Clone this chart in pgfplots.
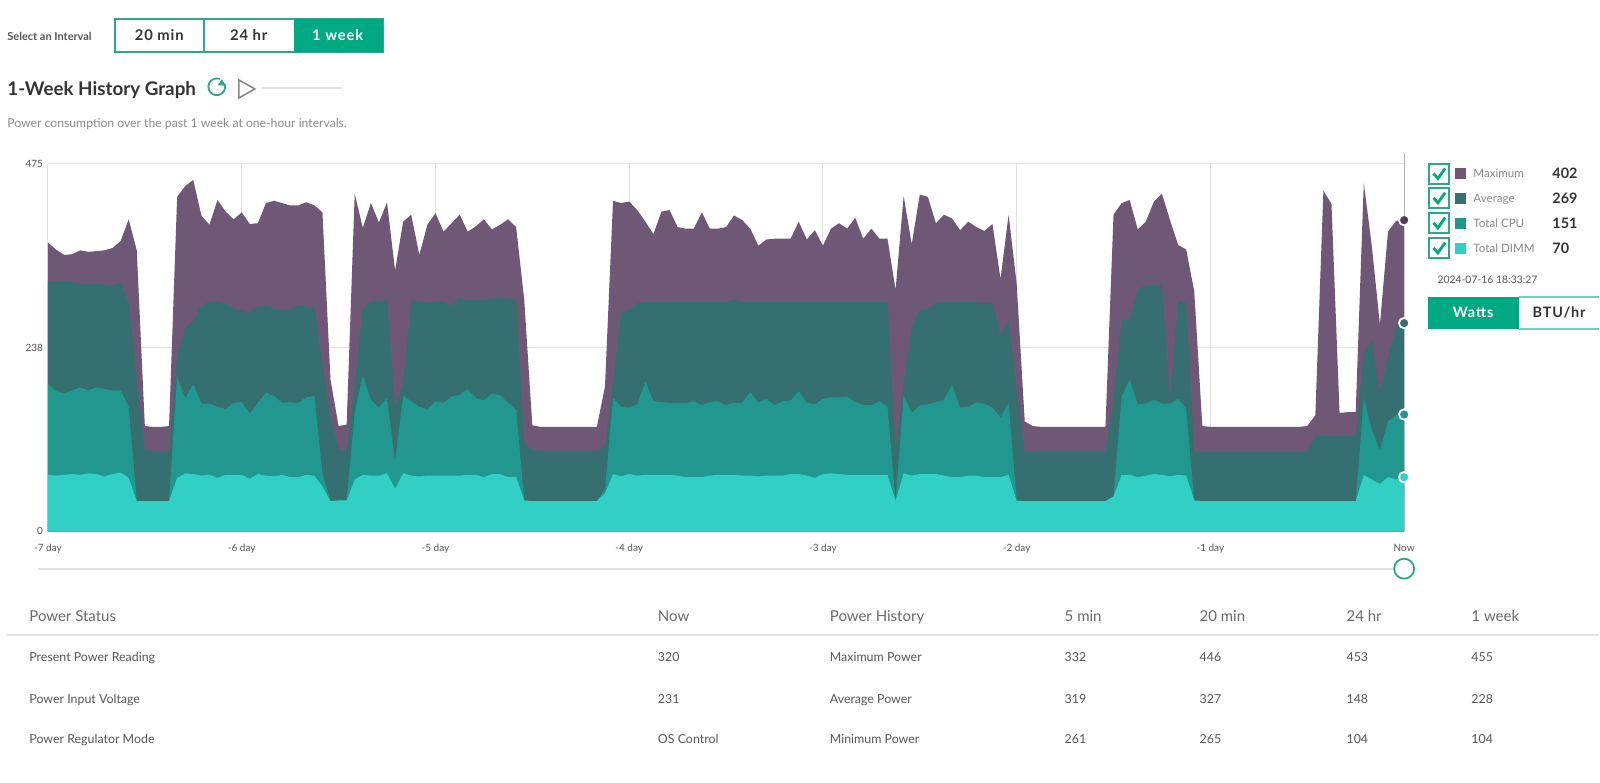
\documentclass[border=0pt]{standalone}
\usepackage{fontspec}
\setmainfont{Lato}
\newfontfamily\btnfont[LetterSpace=6]{Lato}
\usepackage{pgfplots}
\usepackage{pgfplotstable}
\pgfplotsset{compat=1.18}
\definecolor{cmax}{HTML}{6F5876}
\definecolor{cavg}{HTML}{356F70}
\definecolor{ccpu}{HTML}{229790}
\definecolor{cdim}{HTML}{32CFC5}
\definecolor{hpe}{HTML}{01A982}
\definecolor{edge}{HTML}{2FA58C}
\definecolor{tdark}{HTML}{333333}
\definecolor{tmid}{HTML}{555555}
\definecolor{thead}{HTML}{6A6A6A}
\definecolor{tlight}{HTML}{8A8A8A}
\definecolor{gridc}{HTML}{E2E2E2}
\pgfplotstableread{
i max avg cpu dimm
0 373 323 190 73
1 364 323 181 72
2 357 323 178 73
3 358 322 182 74
4 363 320 186 73
5 361 319 182 75
6 362 320 186 74
7 363 319 184 71
8 366 318 182 74
9 375 321 182 76
10 403 295 161 69
11 363 200 39 39
12 136 105 39 39
13 135 104 39 39
14 135 104 39 39
15 136 104 39 39
16 432 226 200 69
17 446 262 172 75
18 454 273 190 74
19 408 291 165 72
20 396 297 165 73
21 428 297 161 69
22 413 294 158 73
23 403 288 166 73
24 412 285 167 73
25 397 282 152 68
26 398 290 166 74
27 424 292 179 72
28 427 288 175 71
29 424 286 166 73
30 421 286 167 70
31 421 293 166 70
32 425 290 173 73
33 421 288 175 72
34 412 217 75 58
35 196 148 39 39
36 136 105 40 40
37 138 105 40 40
38 436 191 153 67
39 392 288 201 73
40 424 297 170 72
41 399 298 160 72
42 425 298 172 75
43 337 161 90 55
44 400 191 175 75
45 409 298 168 72
46 357 297 161 71
47 396 295 158 72
48 411 297 168 72
49 387 297 166 72
50 398 291 174 72
51 409 302 176 72
52 387 298 184 73
53 394 299 172 73
54 403 299 169 70
55 390 301 178 74
56 396 301 176 74
57 403 301 166 70
58 393 298 157 70
59 299 114 40 40
60 137 105 39 39
61 135 104 39 39
62 135 104 39 39
63 135 104 39 39
64 135 104 39 39
65 135 104 39 39
66 135 104 39 39
67 135 104 39 39
68 135 104 39 39
69 187 110 54 49
70 427 191 172 74
71 424 283 161 71
72 426 286 160 74
73 415 295 164 72
74 400 296 194 73
75 384 296 168 73
76 413 296 167 73
77 415 296 166 73
78 393 296 166 72
79 391 296 166 70
80 391 296 168 70
81 412 296 163 70
82 391 296 167 72
83 391 296 168 73
84 393 296 163 73
85 408 300 166 73
86 402 296 166 72
87 391 296 180 72
88 369 296 166 71
89 377 296 171 72
90 378 296 163 72
91 378 296 168 72
92 378 296 169 74
93 400 296 181 74
94 377 296 166 72
95 389 296 164 69
96 369 296 171 74
97 391 296 173 75
98 398 296 173 74
99 391 296 174 73
100 405 296 167 73
101 378 296 163 73
102 391 296 163 73
103 378 296 168 73
104 378 296 161 73
105 312 105 39 39
106 433 191 176 75
107 371 264 153 72
108 435 286 163 74
109 432 288 164 74
110 398 295 167 74
111 409 296 170 72
112 404 296 189 70
113 389 296 160 70
114 400 296 161 72
115 393 296 166 72
116 388 294 165 70
117 397 295 160 70
118 326 252 147 70
119 409 273 166 73
120 320 183 41 39
121 142 103 39 39
122 136 104 39 39
123 135 104 39 39
124 135 104 39 39
125 135 104 39 39
126 135 104 39 39
127 135 104 39 39
128 135 104 39 39
129 135 104 39 39
130 135 104 39 39
131 135 104 39 39
132 409 170 45 45
133 424 273 174 73
134 428 273 196 73
135 390 312 164 70
136 400 318 165 72
137 426 319 170 74
138 436 317 165 73
139 402 172 165 71
140 370 297 171 73
141 364 295 159 72
142 310 103 39 40
143 136 103 39 39
144 135 103 39 39
145 135 103 39 39
146 135 103 39 39
147 135 103 39 39
148 135 103 39 39
149 135 103 39 39
150 135 103 39 39
151 135 103 39 39
152 135 103 39 39
153 135 103 39 39
154 135 103 39 39
155 135 103 39 39
156 136 103 39 39
157 150 123 39 39
158 440 123 39 39
159 423 123 39 39
160 153 123 39 39
161 154 123 39 39
162 154 123 39 39
163 450 230 172 73
164 368 247 131 67
165 267 178 105 61
166 387 226 142 70
167 401 264 150 67
168 402 269 151 70
}\powerdata
\newcommand{\cbox}[1]{%
  \draw[edge,line width=1pt] (715pt,#1+5pt) rectangle (725pt,#1-5pt);
  \draw[hpe,line width=1.4pt] (717.2pt,#1+0.2pt) -- (719.4pt,#1-2.3pt) -- (723pt,#1+2.8pt);}
\begin{document}
\begin{tikzpicture}
\path (0pt,0pt) rectangle (800pt,-391.5pt);
% header
\node[anchor=west,font=\fontsize{5.5pt}{6pt}\selectfont\bfseries,text=tmid,inner sep=0pt] at (3.5pt,-18pt) {Select an Interval};
\draw[edge,line width=0.9pt] (57.5pt,-9.5pt) rectangle (191.5pt,-26pt);
\fill[hpe] (147pt,-9.5pt) rectangle (191.5pt,-26pt);
\draw[edge,line width=0.9pt] (102pt,-9.5pt) -- (102pt,-26pt);
\node[anchor=base,font=\fontsize{7.4pt}{8pt}\selectfont\btnfont\bfseries,text=tdark] at (79.7pt,-20.3pt) {20 min};
\node[anchor=base,font=\fontsize{7.4pt}{8pt}\selectfont\btnfont\bfseries,text=tdark] at (124.5pt,-20.3pt) {24 hr};
\node[anchor=base,font=\fontsize{7.4pt}{8pt}\selectfont\btnfont\bfseries,text=white] at (169pt,-20.3pt) {1 week};
\node[anchor=west,font=\fontsize{9.4pt}{11pt}\selectfont\bfseries,text=tdark,inner sep=0pt] at (3.5pt,-45pt) {1-Week History Graph};
\draw[edge,line width=0.9pt] (112.4pt,-42pt) arc (20:-290:4.2pt);
\fill[edge] (111pt,-39.6pt) -- (113.2pt,-43pt) -- (109pt,-42.6pt) -- cycle;
\draw[tlight,line width=0.8pt] (119.5pt,-40pt) -- (127.5pt,-44.5pt) -- (119.5pt,-49pt) -- cycle;
\draw[gridc,line width=1pt] (131pt,-44pt) -- (171pt,-44pt);
\node[anchor=west,font=\fontsize{6.1pt}{7pt}\selectfont,text=tlight,inner sep=0pt] at (3.5pt,-62.3pt) {Power consumption over the past 1 week at one-hour intervals.};
% chart
\begin{axis}[
  at={(24pt,-265.85pt)}, anchor=south west,
  scale only axis, width=678.5pt, height=184pt,
  xmin=0, xmax=168, ymin=0, ymax=475,
  clip=false,
  axis line style={draw=none},
  tick style={draw=none},
  grid=major, grid style={gridc,line width=0.5pt},
  xtick={0,24,48,72,96,120,144,168},
  xticklabels={-7 day,-6 day,-5 day,-4 day,-3 day,-2 day,-1 day,Now},
  ytick={0,237.5,475}, yticklabels={0,238,475},
  tick label style={font=\fontsize{5pt}{6pt}\selectfont,text=tmid},
  xticklabel style={yshift=-3pt},
  yticklabel style={xshift=1pt},
]
\addplot[fill=cmax,draw=none] table[x=i,y=max]{\powerdata} \closedcycle;
\addplot[fill=cavg,draw=none] table[x=i,y=avg]{\powerdata} \closedcycle;
\addplot[fill=ccpu,draw=none] table[x=i,y=cpu]{\powerdata} \closedcycle;
\addplot[fill=cdim,draw=none] table[x=i,y=dimm]{\powerdata} \closedcycle;
\addplot[only marks,mark=*,mark size=2.6pt,mark options={fill=cmax!70!black,draw=white,line width=0.9pt}] coordinates {(168,402)};
\addplot[only marks,mark=*,mark size=2.6pt,mark options={fill=cavg,draw=white,line width=0.9pt}] coordinates {(168,269)};
\addplot[only marks,mark=*,mark size=2.6pt,mark options={fill=ccpu,draw=white,line width=0.9pt}] coordinates {(168,151)};
\addplot[only marks,mark=*,mark size=2.6pt,mark options={fill=cdim,draw=white,line width=0.9pt}] coordinates {(168,70)};
\end{axis}
\draw[gridc!80!black,line width=0.6pt] (702.5pt,-76.5pt) -- (702.5pt,-108pt);
% slider
\draw[gridc,line width=0.9pt] (19pt,-284.5pt) -- (702pt,-284.5pt);
\draw[edge,fill=white,line width=0.9pt] (702.5pt,-284.5pt) circle (5pt);
% legend
\cbox{-87pt}\cbox{-99.2pt}\cbox{-111.7pt}\cbox{-124.2pt}
\fill[cmax] (728pt,-84pt) rectangle (733.5pt,-89.5pt);
\fill[cavg] (728pt,-96.5pt) rectangle (733.5pt,-102pt);
\fill[ccpu] (728pt,-109pt) rectangle (733.5pt,-114.5pt);
\fill[cdim] (728pt,-121.5pt) rectangle (733.5pt,-127pt);
\foreach \t/\y in {Maximum/-89,Average/-101.5,Total CPU/-114,Total DIMM/-126.5}
  \node[anchor=base west,font=\fontsize{5.8pt}{7pt}\selectfont,text=tlight,inner sep=0pt] at (737pt,\y pt) {\t};
\foreach \t/\y in {402/-89.5,269/-102,151/-114.5,70/-127}
  \node[anchor=base west,font=\fontsize{7.2pt}{8pt}\selectfont\bfseries,text=tdark,inner sep=0pt] at (776.5pt,\y pt) {\t};
\node[anchor=west,font=\fontsize{5.2pt}{6pt}\selectfont,text=tmid,inner sep=0pt] at (719pt,-139.8pt) {2024-07-16 18:33:27};
\fill[hpe] (714.5pt,-148.5pt) rectangle (760pt,-164.5pt);
\draw[hpe!55,line width=0.7pt] (760pt,-148.5pt) -- (800pt,-148.5pt) (760pt,-164.5pt) -- (800pt,-164.5pt);
\node[anchor=base,font=\fontsize{7.2pt}{8pt}\selectfont\btnfont\bfseries,text=white] at (737pt,-159pt) {Watts};
\node[anchor=base,font=\fontsize{7.2pt}{8pt}\selectfont\btnfont\bfseries,text=tdark] at (780pt,-159pt) {BTU/hr};
% table
\foreach \t/\x in {Power Status/14.5,Now/329,Power History/415,5 min/532.5,20 min/600,24 hr/673.5,1 week/736}
  \node[anchor=base west,font=\fontsize{7.5pt}{8pt}\selectfont,text=thead,inner sep=0pt] at (\x pt,-311pt) {\t};
\draw[gridc,line width=1pt] (3.5pt,-317.8pt) -- (800pt,-317.8pt);
\foreach \y/\a/\b/\c/\d/\e/\f/\g in {-331/Present Power Reading/320/Maximum Power/332/446/453/455,-352/Power Input Voltage/231/Average Power/319/327/148/228,-372.2/Power Regulator Mode/OS Control/Minimum Power/261/265/104/104}{
  \foreach \t/\x in {\a/14.5,\b/329,\c/415,\d/532.5,\e/600,\f/673.5,\g/736}
    \node[anchor=base west,font=\fontsize{6.2pt}{7pt}\selectfont,text=tmid,inner sep=0pt] at (\x pt,\y pt) {\t};
}
\end{tikzpicture}
\end{document}
